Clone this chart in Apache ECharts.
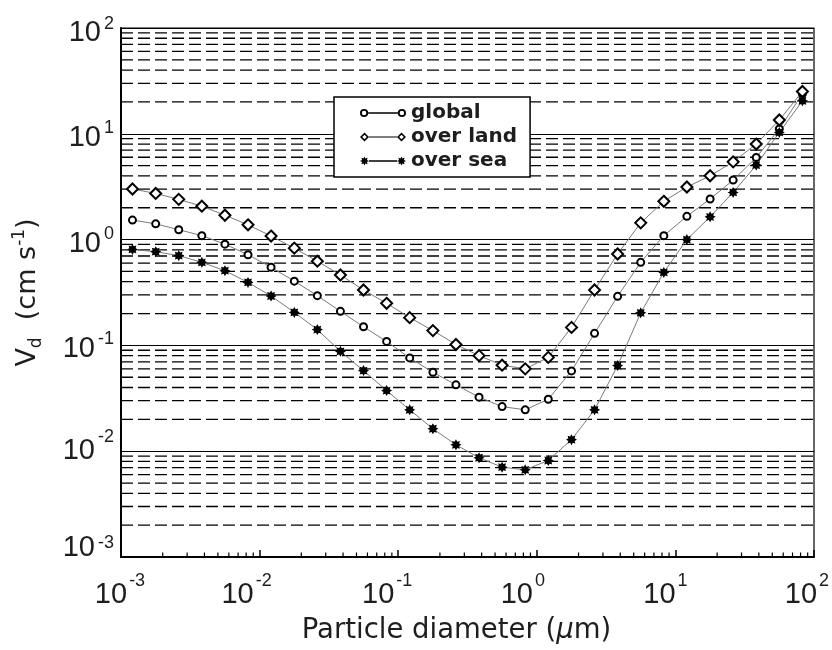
<!DOCTYPE html>
<html>
<head>
<meta charset="utf-8">
<script src="https://cdn.jsdelivr.net/npm/echarts@6/dist/echarts.min.js"></script>
<style>
html,body{margin:0;padding:0;background:#fff;}
#chart{width:832px;height:650px;}
</style>
</head>
<body>
<div id="chart"></div>
<script>
// ---- data ----
var diameters = [0.00121, 0.00178, 0.00261, 0.00383, 0.00562, 0.00825,
                 0.0121, 0.0178, 0.0261, 0.0383, 0.0562, 0.0825,
                 0.121, 0.178, 0.261, 0.383, 0.562, 0.825,
                 1.21, 1.78, 2.61, 3.83, 5.62, 8.25,
                 12.1, 17.8, 26.1, 38.3, 56.2, 82.5];
var globalVd = [1.53, 1.41, 1.24, 1.09, 0.906, 0.72, 0.548, 0.405, 0.295, 0.210,
                0.150, 0.109, 0.0762, 0.0557, 0.0424, 0.0324, 0.0264, 0.0246, 0.031, 0.0574,
                0.130, 0.291, 0.610, 1.09, 1.66, 2.42, 3.65, 5.97, 11.1, 23.9];
var landVd = [3.01, 2.73, 2.40, 2.07, 1.70, 1.38, 1.08, 0.83, 0.625, 0.463,
              0.334, 0.250, 0.183, 0.138, 0.102, 0.080, 0.065, 0.060, 0.077, 0.148,
              0.334, 0.731, 1.44, 2.30, 3.14, 4.01, 5.43, 8.0, 13.5, 25.1];
var seaVd = [0.807, 0.769, 0.705, 0.610, 0.508, 0.394, 0.293, 0.205, 0.141, 0.0879,
             0.0578, 0.0374, 0.0246, 0.0163, 0.0115, 0.00867, 0.00706, 0.00667, 0.00817, 0.01285,
             0.0246, 0.0644, 0.203, 0.490, 1.00, 1.64, 2.79, 5.06, 10.3, 20.5];
var seriesNames = ['global', 'over land', 'over sea'];
var xDecades = [0.001, 0.01, 0.1, 1, 10, 100];
var yDecades = [0.001, 0.01, 0.1, 1, 10, 100];
var minorMultipliers = [2, 3, 4, 5, 6, 7, 8, 9];
var tickBase = '10';
var xTitle = 'Particle diameter (';
var yTitleUnit = '  (cm s';

// ---- label nudges (layout only) ----
var xLabelShift = { '-3': -1, '-2': -13, '-1': -11, '0': -14, '1': -10, '2': -7 };
var yLabelShift = { '2': 5, '1': 4, '0': 4, '-1': 4, '-2': 0, '-3': -9 };

// ---- helpers ----
function pairs(xs, ys) { return xs.map(function (x, i) { return [x, ys[i]]; }); }
function minorValues(decades) {
  var out = [];
  for (var i = 0; i < decades.length - 1; i++) {
    minorMultipliers.forEach(function (m) { out.push(decades[i] * m); });
  }
  return out;
}
function starPts(cx, cy, ro, ri, n) {
  var s = '';
  for (var k = 0; k < 2 * n; k++) {
    var a = Math.PI * k / n - Math.PI / 2, r = (k % 2 === 0) ? ro : ri;
    s += (k === 0 ? 'M' : 'L') + (cx + r * Math.cos(a)).toFixed(3) + ' ' + (cy + r * Math.sin(a)).toFixed(3) + ' ';
  }
  return s + 'Z ';
}
function ring(cx, cy, ro, ri) {
  return 'M' + (cx - ro) + ' ' + cy + ' a' + ro + ' ' + ro + ' 0 1 0 ' + (2 * ro) + ' 0 a' + ro + ' ' + ro + ' 0 1 0 ' + (-2 * ro) + ' 0 Z ' +
         'M' + (cx - ri) + ' ' + cy + ' a' + ri + ' ' + ri + ' 0 1 1 ' + (2 * ri) + ' 0 a' + ri + ' ' + ri + ' 0 1 1 ' + (-2 * ri) + ' 0 Z ';
}
function diamondRing(cx, cy, ro, ri) {
  return 'M' + cx + ' ' + (cy - ro) + ' L' + (cx + ro) + ' ' + cy + ' L' + cx + ' ' + (cy + ro) + ' L' + (cx - ro) + ' ' + cy + ' Z ' +
         'M' + cx + ' ' + (cy - ri) + ' L' + (cx - ri) + ' ' + cy + ' L' + cx + ' ' + (cy + ri) + ' L' + (cx + ri) + ' ' + cy + ' Z ';
}
function bar(x1, x2, cy, h) {
  return 'M' + x1 + ' ' + (cy - h / 2) + ' L' + x2 + ' ' + (cy - h / 2) + ' L' + x2 + ' ' + (cy + h / 2) + ' L' + x1 + ' ' + (cy + h / 2) + ' Z ';
}
var iconGlobal = 'path://' + ring(4.5, 4.5, 4, 2.2) + bar(8.5, 37.5, 4.5, 1.6) + ring(41.5, 4.5, 4, 2.2);
var iconLand = 'path://' + diamondRing(4.5, 4.5, 4.5, 2.3) + bar(9, 37, 4.5, 1.1) + diamondRing(41.5, 4.5, 4.5, 2.3);
var iconSea = 'path://' + starPts(4.5, 4.5, 4.5, 2.6, 8) + bar(9, 37, 4.5, 1.6) + starPts(41.5, 4.5, 4.5, 2.6, 8);
var starSymbol = 'path://' + starPts(5, 5, 5, 3.1, 8);

var FONT = '"Liberation Sans", Arial, Helvetica, sans-serif';
var TFONT = '"DejaVu Sans", "Liberation Sans", sans-serif';
var TXT = '#1e1e1e';

function expOf(v) { return Math.round(Math.log10(v)); }
function buildRich(shiftMap, horizontal) {
  var rich = {};
  Object.keys(shiftMap).forEach(function (k) {
    var key = (k.charAt(0) === '-' ? 'm' : 'p') + Math.abs(+k);
    var d = shiftMap[k];
    if (horizontal) {
      var r = Math.max(0, -2 * d), l = Math.max(0, 2 * d);
      rich['b' + key] = { fontSize: 29, lineHeight: 46, fontFamily: FONT, color: TXT, padding: [0, 0, 0, l] };
      rich['s' + key] = { fontSize: 18, lineHeight: 18, verticalAlign: 'top', fontFamily: FONT, color: TXT, padding: [0, r, 0, 2] };
    } else {
      var pt = Math.max(0, 2 * d), pb = Math.max(0, -2 * d);
      rich['b' + key] = { fontSize: 29, lineHeight: 46, fontFamily: FONT, color: TXT, padding: [pt, 0, pb, 0] };
      rich['s' + key] = { fontSize: 18, lineHeight: 18, verticalAlign: 'top', fontFamily: FONT, color: TXT, padding: [pt, 0, pb, 3] };
    }
  });
  return rich;
}
function expLabel(v) {
  var e = expOf(v);
  var key = (e < 0 ? 'm' : 'p') + Math.abs(e);
  return '{b' + key + '|' + tickBase + '}{s' + key + '|' + e + '}';
}

var chart = echarts.init(document.getElementById('chart'), null, { renderer: 'canvas' });
var option = {
  backgroundColor: '#fff',
  animation: false,
  textStyle: { fontFamily: FONT, color: TXT },
  grid: { left: 121, right: 18, top: 28, bottom: 93, containLabel: false, outerBoundsMode: 'none',
          show: true, borderColor: '#000', borderWidth: 1.2, backgroundColor: 'transparent' },
  legend: {
    data: [
      { name: seriesNames[0], icon: iconGlobal },
      { name: seriesNames[1], icon: iconLand },
      { name: seriesNames[2], icon: iconSea }
    ],
    orient: 'vertical',
    left: 334, top: 97,
    itemWidth: 46, itemHeight: 9, itemGap: 2, itemTextGap: 11,
    padding: [5, 13, 5, 26],
    backgroundColor: '#fff', borderColor: '#000', borderWidth: 1.5, borderRadius: 0,
    selectedMode: false,
    itemStyle: { color: '#000', borderWidth: 0 },
    textStyle: { fontFamily: TFONT, fontSize: 20, fontWeight: 'bold', color: TXT, lineHeight: 22 }
  },
  xAxis: {
    type: 'log', logBase: 10, min: xDecades[0], max: xDecades[xDecades.length - 1],
    axisLine: { lineStyle: { color: '#000', width: 2 } },
    axisTick: { inside: true, length: 7, lineStyle: { color: '#000', width: 1.5 } },
    splitLine: { show: false },
    axisLabel: { margin: 15, color: TXT, formatter: expLabel, rich: buildRich(xLabelShift, true) },
    name: '{t|' + xTitle + '}{i|\u03bc}{t|m)}',
    nameLocation: 'middle', nameGap: 60,
    nameTextStyle: {
      rich: {
        t: { fontSize: 27.5, fontFamily: TFONT, color: TXT },
        i: { fontSize: 27.5, fontFamily: TFONT, fontStyle: 'italic', color: TXT }
      },
      padding: [0, 22, 0, 0]
    }
  },
  yAxis: {
    type: 'log', logBase: 10, min: yDecades[0], max: yDecades[yDecades.length - 1],
    axisLine: { lineStyle: { color: '#000', width: 2 } },
    axisTick: { show: false },
    splitLine: { show: true, lineStyle: { color: '#000', width: 1.2, type: 'solid' } },
    axisLabel: { margin: 7, color: TXT, formatter: expLabel, rich: buildRich(yLabelShift, false) },
    name: '{v|V}{d|d}{t|' + yTitleUnit + '}{e|-1}{t|)}',
    nameLocation: 'middle', nameGap: 76, nameRotate: 90,
    nameTextStyle: {
      rich: {
        v: { fontSize: 27, lineHeight: 34, fontFamily: TFONT, color: TXT },
        t: { fontSize: 27, lineHeight: 34, fontFamily: TFONT, color: TXT },
        d: { fontSize: 17, lineHeight: 16, verticalAlign: 'bottom', fontFamily: TFONT, color: TXT },
        e: { fontSize: 17, lineHeight: 16, verticalAlign: 'top', fontFamily: TFONT, color: TXT }
      }
    }
  },
  series: [
    {
      type: 'custom', name: 'yMinorGrid', silent: true, z: 1,
      data: minorValues(yDecades).map(function (v) { return [xDecades[0], v]; }),
      renderItem: function (params, api) {
        var v = api.value(1);
        var p1 = api.coord([xDecades[0], v]);
        var p2 = api.coord([xDecades[xDecades.length - 1], v]);
        return { type: 'line', shape: { x1: p1[0], y1: p1[1], x2: p2[0], y2: p2[1] },
                 style: { stroke: '#000', lineWidth: 1.3, lineDash: [12, 5] } };
      }
    },
    {
      type: 'custom', name: 'xMinorTicks', silent: true, z: 3,
      data: minorValues(xDecades).map(function (v) { return [v, yDecades[0]]; }),
      renderItem: function (params, api) {
        var p = api.coord([api.value(0), yDecades[0]]);
        return { type: 'line', shape: { x1: p[0], y1: p[1], x2: p[0], y2: p[1] - 4.5 },
                 style: { stroke: '#000', lineWidth: 1.2 } };
      }
    },
    {
      type: 'line', name: seriesNames[0], data: pairs(diameters, globalVd),
      symbol: 'emptyCircle', symbolSize: 7, z: 4,
      lineStyle: { color: '#7a7a7a', width: 1 },
      itemStyle: { color: '#000', borderColor: '#000', borderWidth: 2 }
    },
    {
      type: 'line', name: seriesNames[1], data: pairs(diameters, landVd),
      symbol: 'emptyDiamond', symbolSize: 11, z: 4,
      lineStyle: { color: '#7a7a7a', width: 1 },
      itemStyle: { color: '#000', borderColor: '#000', borderWidth: 2.2 }
    },
    {
      type: 'line', name: seriesNames[2], data: pairs(diameters, seaVd),
      symbol: starSymbol, symbolSize: 11, z: 4,
      lineStyle: { color: '#7a7a7a', width: 1 },
      itemStyle: { color: '#000', borderWidth: 0 }
    }
  ]
};
chart.setOption(option);
</script>
</body>
</html>
